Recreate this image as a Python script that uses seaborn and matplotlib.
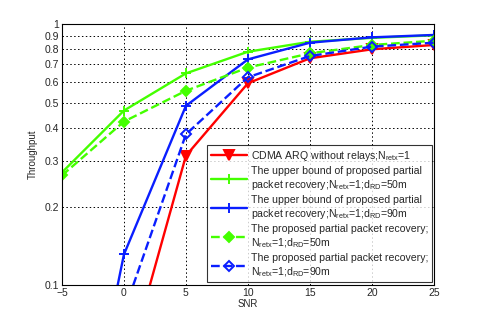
import numpy as np
import pandas as pd
import matplotlib
matplotlib.use("Agg")
import matplotlib.pyplot as plt
import seaborn as sns
from matplotlib.ticker import FixedLocator, FixedFormatter, NullLocator

# ==========================================
# データ
# ==========================================
snr = [-5, 0, 5, 10, 15, 20, 25]

cdma_arq = [0.006, 0.044, 0.313, 0.593, 0.739, 0.800, 0.831]
ub_50m = [0.270, 0.466, 0.647, 0.783, 0.855, 0.885, 0.905]
ub_90m = [0.009, 0.131, 0.486, 0.732, 0.848, 0.889, 0.908]
pp_50m = [0.263, 0.423, 0.555, 0.681, 0.772, 0.831, 0.863]
pp_90m = [0.010, 0.079, 0.378, 0.625, 0.754, 0.819, 0.848]

labels = [
    "CDMA ARQ without relays;N$_{\\rm retx}$=1",
    "The upper bound of proposed partial\npacket recovery;N$_{\\rm retx}$=1;d$_{\\rm RD}$=50m",
    "The upper bound of proposed partial\npacket recovery;N$_{\\rm retx}$=1;d$_{\\rm RD}$=90m",
    "The proposed partial packet recovery;\nN$_{\\rm retx}$=1;d$_{\\rm RD}$=50m",
    "The proposed partial packet recovery;\nN$_{\\rm retx}$=1;d$_{\\rm RD}$=90m",
]

y_ticks = [0.1, 0.2, 0.3, 0.4, 0.5, 0.6, 0.7, 0.8, 0.9, 1.0]
y_tick_labels = ["0.1", "0.2", "0.3", "0.4", "0.5", "0.6", "0.7", "0.8", "0.9", "1"]
x_ticks = [-5, 0, 5, 10, 15, 20, 25]

RED = "#ff0000"
GREEN = "#44ff00"
BLUE = "#0a1eff"

# ==========================================
# 描画
# ==========================================
sns.set_style("white")
plt.rcParams['font.family'] = ['Liberation Sans', 'DejaVu Sans']
plt.rcParams['mathtext.fontset'] = 'custom'
plt.rcParams['mathtext.rm'] = 'Liberation Sans'

fig = plt.figure(figsize=(4.8, 3.2), dpi=100)
ax = fig.add_axes([0.129, 0.109, 0.775, 0.816])

styles = [
    (cdma_arq, RED, "-", "v", RED),
    (ub_50m, GREEN, "-", "+", GREEN),
    (ub_90m, BLUE, "-", "+", BLUE),
    (pp_50m, GREEN, "--", "D", GREEN),
    (pp_90m, BLUE, "--", "D", "none"),
]

for (vals, col, ls, mk, fc), lab in zip(styles, labels):
    df = pd.DataFrame({"SNR": snr, "Throughput": vals})
    sns.lineplot(data=df, x="SNR", y="Throughput", ax=ax, color=col,
                 linestyle=ls, linewidth=1.7, marker=mk,
                 markersize=6.5 if mk != "D" else 5,
                 markerfacecolor=fc, markeredgecolor=col,
                 markeredgewidth=1.4, label=lab)

ax.set_yscale("log")
ax.set_ylim(0.1, 1.0)
ax.set_xlim(-5, 25)
ax.yaxis.set_major_locator(FixedLocator(y_ticks))
ax.yaxis.set_major_formatter(FixedFormatter(y_tick_labels))
ax.yaxis.set_minor_locator(NullLocator())
ax.set_xticks(x_ticks)
ax.tick_params(labelsize=7.5, direction="in", length=3, pad=2)

ax.grid(True, linestyle=(0, (1.5, 2.5)), color="black", linewidth=0.7)
for s in ax.spines.values():
    s.set_color("black")
    s.set_linewidth(0.8)

ax.set_xlabel("SNR", fontsize=7, labelpad=1)
ax.set_ylabel("Throughput", fontsize=7, labelpad=5)

leg = ax.legend(loc="lower right", bbox_to_anchor=(0.995, 0.011),
                borderaxespad=0, fontsize=7.6, handlelength=3.4,
                labelspacing=0.3, handletextpad=0.4, borderpad=0.35,
                frameon=True, fancybox=False, edgecolor="black")
leg.get_frame().set_linewidth(0.8)

fig.savefig("out.png", dpi=100)
